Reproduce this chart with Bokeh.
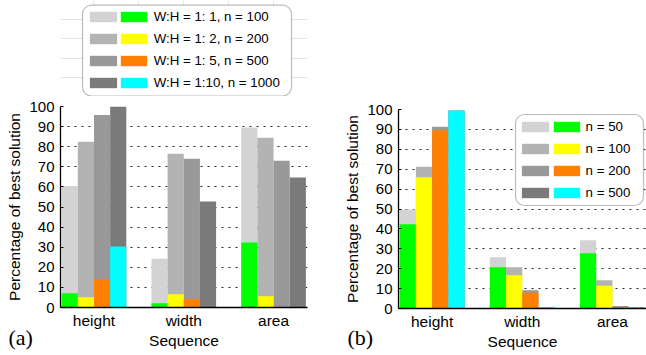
from bokeh.plotting import figure
from bokeh.models import (ColumnDataSource, Range1d, FixedTicker, Legend, LegendItem,
                          BoxAnnotation, Title)
from bokeh.transform import dodge
from bokeh.layouts import row, column
from bokeh.embed import file_html
from bokeh.resources import INLINE

# ---------------- data ----------------
categories = ["height", "width", "area"]
positions = [1, 2, 3]
y_ticks = [0, 10, 20, 30, 40, 50, 60, 70, 80, 90, 100]

# panel (a): gray = W:H ratio, colour = n
a_labels = ["W:H = 1: 1, n = 100", "W:H = 1: 2, n = 200",
            "W:H = 1: 5, n = 500", "W:H = 1:10, n = 1000"]
a_gray_1_1 = [60.5, 24.3, 89.5]
a_gray_1_2 = [82.5, 76.5, 84.5]
a_gray_1_5 = [95.8, 74.0, 73.0]
a_gray_1_10 = [100.0, 52.7, 64.7]
a_col_n100 = [7.1, 2.1, 32.4]
a_col_n200 = [5.1, 6.6, 5.6]
a_col_n500 = [14.0, 4.1, 0.3]
a_col_n1000 = [30.4, 0.3, 0.3]

# panel (b)
b_labels = ["n = 50", "n = 100", "n = 200", "n = 500"]
b_gray_n50 = [49.8, 25.8, 34.3]
b_gray_n100 = [71.2, 20.7, 14.2]
b_gray_n200 = [91.3, 9.2, 1.2]
b_gray_n500 = [99.5, 0.8, 0.6]
b_col_n50 = [42.3, 20.7, 27.8]
b_col_n100 = [65.9, 16.7, 11.4]
b_col_n200 = [89.6, 7.9, 0.8]
b_col_n500 = [99.5, 0.8, 0.5]

gray_colors = ["#d3d3d3", "#b3b3b3", "#999999", "#7a7a7a"]
bright_colors = ["#00ff00", "#ffff00", "#ff8000", "#00ffff"]

FONT = "Liberation Sans"
SERIF = "Liberation Serif"
BW = 0.18

LEG_COMMON = dict(orientation="vertical", glyph_height=13, label_height=16, spacing=6,
                  padding=0, margin=0, border_line_alpha=0, background_fill_alpha=0,
                  label_text_font=FONT, label_text_font_size="13.3px",
                  label_text_color="black")


def pair_legends(gray_r, col_r, labels, leg_y, gray_x, col_x, col_standoff):
    leg_g = Legend(items=[LegendItem(label=" ", renderers=[r]) for r in gray_r],
                   location=(gray_x, leg_y), glyph_width=34, label_width=0,
                   label_standoff=0, **LEG_COMMON)
    leg_c = Legend(items=[LegendItem(label=lab, renderers=[r]) for lab, r in zip(labels, col_r)],
                   location=(col_x, leg_y), glyph_width=33, label_width=0,
                   label_standoff=col_standoff, **LEG_COMMON)
    return leg_g, leg_c


def rounded_box(l, r, t, b):
    return BoxAnnotation(left=l, right=r, top=t, bottom=b,
                         left_units="canvas", right_units="canvas",
                         top_units="canvas", bottom_units="canvas",
                         fill_color="white", fill_alpha=1.0,
                         line_color="#222222", line_width=1.2, border_radius=9)


def tag_title(text, offset, standoff):
    return Title(text=text, align="left", vertical_align="top", offset=offset,
                 standoff=standoff, text_font=SERIF, text_font_size="22px",
                 text_font_style="normal", text_color="black")


def make_source(grays, cols):
    return ColumnDataSource(dict(pos=positions, g0=grays[0], g1=grays[1], g2=grays[2],
                                 g3=grays[3], c0=cols[0], c1=cols[1], c2=cols[2], c3=cols[3]))


def add_bars(p, src, visible=True):
    g_r = [p.vbar(x=dodge("pos", (i - 1.5) * BW), top="g%d" % i, width=BW, source=src,
                  fill_color=gray_colors[i], line_color=None, visible=visible)
           for i in range(4)]
    c_r = [p.vbar(x=dodge("pos", (i - 1.5) * BW), top="c%d" % i, width=BW, source=src,
                  fill_color=bright_colors[i], line_color=None, visible=visible)
           for i in range(4)]
    return g_r, c_r


def make_panel(width, height, left, right, top, bottom, src):
    p = figure(width=width, height=height, x_range=Range1d(0.627, 3.378),
               y_range=Range1d(0, 100), output_backend="svg", toolbar_location=None,
               min_border_left=left, min_border_right=right,
               min_border_top=top, min_border_bottom=bottom)
    p.outline_line_color = None
    p.background_fill_color = "white"
    p.border_fill_color = "white"
    p.xgrid.visible = False
    p.ygrid.grid_line_color = "black"
    p.ygrid.grid_line_alpha = 0.85
    p.ygrid.grid_line_dash = "2 5"
    p.ygrid.grid_line_width = 1

    p.yaxis.ticker = FixedTicker(ticks=y_ticks)
    p.yaxis.minor_tick_line_color = None
    p.yaxis.major_tick_in = 3
    p.yaxis.major_tick_out = 0
    p.yaxis.major_label_standoff = 6
    p.yaxis.major_label_text_font = FONT
    p.yaxis.major_label_text_font_size = "15px"
    p.yaxis.axis_label = "Percentage of best solution"
    p.yaxis.axis_label_text_font = FONT
    p.yaxis.axis_label_text_font_size = "15.5px"
    p.yaxis.axis_label_text_font_style = "normal"
    p.yaxis.axis_label_standoff = 3

    p.xaxis.ticker = FixedTicker(ticks=positions)
    p.xaxis.major_label_overrides = {pos: c for pos, c in zip(positions, categories)}
    p.xaxis.minor_tick_line_color = None
    p.xaxis.major_tick_in = 0
    p.xaxis.major_tick_out = 0
    p.xaxis.major_label_standoff = 4
    p.xaxis.major_label_text_font = FONT
    p.xaxis.major_label_text_font_size = "15.5px"
    p.xaxis.axis_label = "Sequence"
    p.xaxis.axis_label_text_font = FONT
    p.xaxis.axis_label_text_font_size = "15.5px"
    p.xaxis.axis_label_text_font_style = "normal"
    p.xaxis.axis_label_standoff = 0

    for ax in (p.xaxis, p.yaxis):
        ax.axis_line_color = "black"
        ax.axis_line_width = 1.3
        ax.major_tick_line_color = "black"
        ax.major_label_text_color = "black"
        ax.axis_label_text_color = "black"

    g_r, c_r = add_bars(p, src)
    return p, g_r, c_r


# ---------- panel (a) ----------
src_a = make_source([a_gray_1_1, a_gray_1_2, a_gray_1_5, a_gray_1_10],
                    [a_col_n100, a_col_n200, a_col_n500, a_col_n1000])
pa, ga_r, ca_r = make_panel(340, 259, 60, 33, 10, 48, src_a)
pa.add_layout(tag_title("(a)", -52, -53), "below")

# key of panel (a) sits in its own strip above the panel (frame aligned with panel a)
top = figure(width=340, height=96, x_range=Range1d(0.627, 3.378), y_range=Range1d(0, 100),
             output_backend="svg", toolbar_location=None,
             x_axis_location=None, y_axis_location=None,
             min_border_left=60, min_border_right=33, min_border_top=0, min_border_bottom=0)
top.outline_line_color = None
top.background_fill_color = "white"
top.border_fill_color = "white"
key_g, key_c = add_bars(top, src_a, visible=False)
top.add_layout(rounded_box(82, 291, 4.7, 95.5))
lg, lc = pair_legends(key_g, key_c, a_labels, leg_y=5.3, gray_x=25.6, col_x=56.7,
                      col_standoff=4)
top.add_layout(lg)
top.add_layout(lc)

# ---------- panel (b) ----------
src_b = make_source([b_gray_n50, b_gray_n100, b_gray_n200, b_gray_n500],
                    [b_col_n50, b_col_n100, b_col_n200, b_col_n500])
pb, gb_r, cb_r = make_panel(306, 355, 58, 0, 109, 47, src_b)
pb.add_layout(rounded_box(175, 303, 114, 205))
lg_b, lc_b = pair_legends(gb_r, cb_r, b_labels, leg_y=107.5, gray_x=119.6, col_x=151.6,
                          col_standoff=3)
pb.add_layout(lg_b)
pb.add_layout(lc_b)
pb.add_layout(tag_title("(b)", -51, -55), "below")

layout = row(column(top, pa), pb)
open("out.html", "w").write(file_html(layout, INLINE))
